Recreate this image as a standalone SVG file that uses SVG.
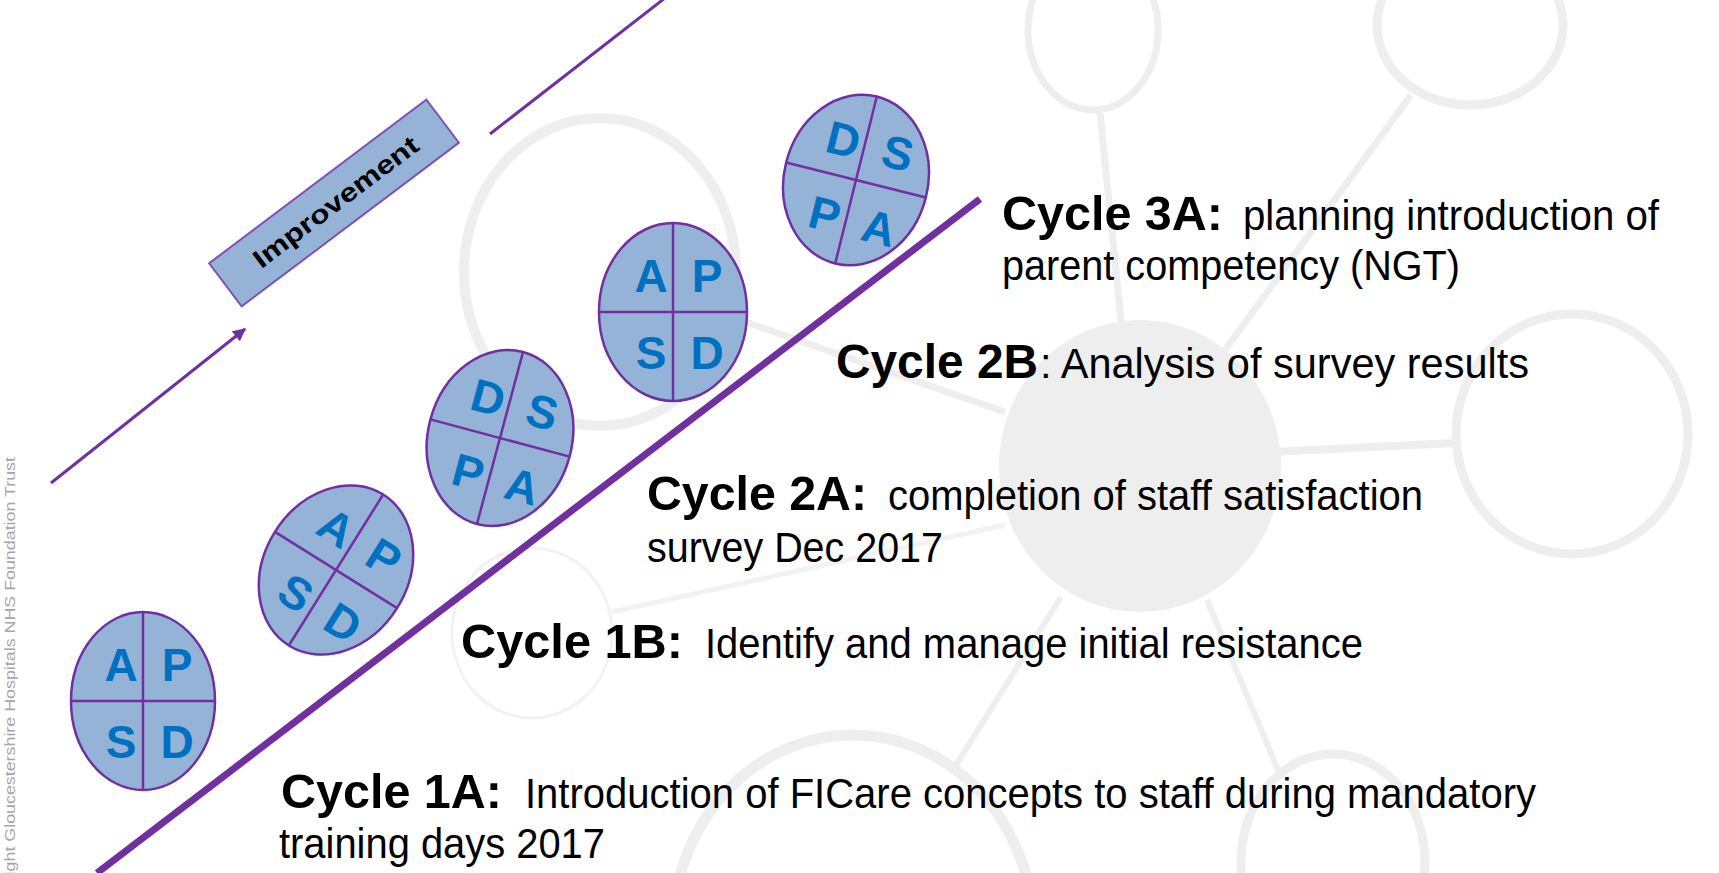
<svg xmlns="http://www.w3.org/2000/svg" width="1719" height="873" viewBox="0 0 1719 873">
<defs>
<style>
.bgring{fill:none;stroke:#eeeeee}
.bgline{stroke:#eeeeee;fill:none}
.pdsa ellipse{fill:#95b3d7;stroke:#7030a0;stroke-width:2.5}
.div{stroke:#7030a0;stroke-width:2.5}
.let{font-family:"Liberation Sans",Arial,sans-serif;font-weight:bold;font-size:46px;fill:#0070c0;text-anchor:middle}
.b{font-family:"Liberation Sans",Arial,sans-serif;font-weight:bold;font-size:48px;fill:#000}
.r{font-family:"Liberation Sans",Arial,sans-serif;font-size:42px;fill:#000}
.conn{stroke:#7030a0;fill:none}
</style>
<marker id="ah" viewBox="0 0 10 10" refX="9" refY="5" markerWidth="16" markerHeight="13" markerUnits="userSpaceOnUse" orient="auto"><path d="M0,0 L10,5 L0,10 z" fill="#7030a0"/></marker>
</defs>
<rect width="1719" height="873" fill="#fff"/>

<g id="background">
<line class="bgline" x1="1100" y1="113" x2="1122" y2="330" stroke-width="7"/>
<line class="bgline" x1="1411" y1="95" x2="1225" y2="350" stroke-width="7"/>
<line class="bgline" x1="1270" y1="452" x2="1455" y2="443" stroke-width="8"/>
<line class="bgline" x1="740" y1="320" x2="1005" y2="412" stroke-width="7"/>
<line class="bgline" x1="612" y1="612" x2="1005" y2="525" stroke-width="5" style="stroke:#f2f2f2"/>
<line class="bgline" x1="1061" y1="597" x2="956" y2="765" stroke-width="6"/>
<line class="bgline" x1="1207" y1="600" x2="1280" y2="775" stroke-width="6"/>
<ellipse class="bgring" cx="600" cy="272" rx="136" ry="154" stroke-width="10"/>
<ellipse class="bgring" cx="1093" cy="30" rx="65" ry="80" stroke-width="7"/>
<ellipse class="bgring" cx="1470" cy="25" rx="93" ry="80" stroke-width="9"/>
<ellipse cx="1140" cy="466" rx="141" ry="146" fill="#eeeeee"/>
<ellipse class="bgring" cx="1572" cy="434" rx="116" ry="120" stroke-width="9"/>
<ellipse class="bgring" cx="532" cy="633" rx="80" ry="85" stroke-width="3" style="stroke:#f2f2f2"/>
<ellipse class="bgring" cx="853" cy="930" rx="180" ry="195" stroke-width="11"/>
<ellipse class="bgring" cx="1333" cy="862" rx="92" ry="108" stroke-width="9"/>
</g>

<text id="copyright" transform="translate(15,923) rotate(-90)" font-family="Liberation Sans, Arial, sans-serif" font-size="14" fill="#a6a6a6" textLength="466" lengthAdjust="spacingAndGlyphs">Copyright Gloucestershire Hospitals NHS Foundation Trust</text>

<g id="connectors">
<line class="conn" x1="97" y1="873" x2="980" y2="199" stroke-width="7"/>
<line class="conn" x1="51" y1="483" x2="245" y2="329" stroke-width="3" marker-end="url(#ah)"/>
<line class="conn" x1="490" y1="134" x2="665" y2="-2" stroke-width="3"/>
</g>

<g id="improvement" transform="translate(334,203) rotate(-37)">
<rect x="-136" y="-27" width="272" height="54" fill="#95b3d7" stroke="#7f4fb3" stroke-width="2"/>
<text x="2" y="9" font-family="Liberation Sans, Arial, sans-serif" font-weight="bold" font-size="26" fill="#000" text-anchor="middle" textLength="200" lengthAdjust="spacingAndGlyphs">Improvement</text>
</g>

<g id="pdsa-1" class="pdsa" transform="translate(143,701)">
<ellipse cx="0" cy="0" rx="72" ry="89"/>
<line class="div" x1="0" y1="-89" x2="0" y2="89"/>
<line class="div" x1="-72" y1="0" x2="72" y2="0"/>
<text class="let" x="-22" y="-20">A</text><text class="let" x="34" y="-20">P</text>
<text class="let" x="-22" y="57">S</text><text class="let" x="34" y="57">D</text>
</g>
<g id="pdsa-2" class="pdsa" transform="translate(336,570) rotate(32)">
<ellipse cx="0" cy="0" rx="72" ry="89"/>
<line class="div" x1="0" y1="-89" x2="0" y2="89"/>
<line class="div" x1="-72" y1="0" x2="72" y2="0"/>
<text class="let" x="-22" y="-20">A</text><text class="let" x="34" y="-20">P</text>
<text class="let" x="-22" y="57">S</text><text class="let" x="34" y="57">D</text>
</g>
<g id="pdsa-3" class="pdsa" transform="translate(500,438) rotate(15)">
<ellipse cx="0" cy="0" rx="72" ry="89"/>
<line class="div" x1="0" y1="-89" x2="0" y2="89"/>
<line class="div" x1="-72" y1="0" x2="72" y2="0"/>
<text class="let" x="-22" y="-20">D</text><text class="let" x="34" y="-20">S</text>
<text class="let" x="-22" y="57">P</text><text class="let" x="34" y="57">A</text>
</g>
<g id="pdsa-4" class="pdsa" transform="translate(673,312)">
<ellipse cx="0" cy="0" rx="74" ry="89"/>
<line class="div" x1="0" y1="-89" x2="0" y2="89"/>
<line class="div" x1="-74" y1="0" x2="74" y2="0"/>
<text class="let" x="-22" y="-20">A</text><text class="let" x="34" y="-20">P</text>
<text class="let" x="-22" y="57">S</text><text class="let" x="34" y="57">D</text>
</g>
<g id="pdsa-5" class="pdsa" transform="translate(856,180) rotate(14)">
<ellipse cx="0" cy="0" rx="72" ry="86"/>
<line class="div" x1="0" y1="-86" x2="0" y2="86"/>
<line class="div" x1="-72" y1="0" x2="72" y2="0"/>
<text class="let" x="-22" y="-20">D</text><text class="let" x="34" y="-20">S</text>
<text class="let" x="-22" y="57">P</text><text class="let" x="34" y="57">A</text>
</g>

<g id="cycle-3a">
<text class="b" x="1002" y="230" textLength="221" lengthAdjust="spacingAndGlyphs">Cycle 3A:</text>
<text class="r" x="1243" y="230" textLength="416" lengthAdjust="spacingAndGlyphs">planning introduction of</text>
<text class="r" x="1002" y="280" textLength="458" lengthAdjust="spacingAndGlyphs">parent competency (NGT)</text>
</g>
<g id="cycle-2b">
<text class="b" x="836" y="378" textLength="202" lengthAdjust="spacingAndGlyphs">Cycle 2B</text>
<text class="r" x="1040" y="378" textLength="489" lengthAdjust="spacingAndGlyphs">: Analysis of survey results</text>
</g>
<g id="cycle-2a">
<text class="b" x="647" y="510" textLength="220" lengthAdjust="spacingAndGlyphs">Cycle 2A:</text>
<text class="r" x="888" y="510" textLength="535" lengthAdjust="spacingAndGlyphs">completion of staff satisfaction</text>
<text class="r" x="647" y="562" textLength="296" lengthAdjust="spacingAndGlyphs">survey Dec 2017</text>
</g>
<g id="cycle-1b">
<text class="b" x="461" y="658" textLength="222" lengthAdjust="spacingAndGlyphs">Cycle 1B:</text>
<text class="r" x="705" y="658" textLength="658" lengthAdjust="spacingAndGlyphs">Identify and manage initial resistance</text>
</g>
<g id="cycle-1a">
<text class="b" x="281" y="808" textLength="221" lengthAdjust="spacingAndGlyphs">Cycle 1A:</text>
<text class="r" x="525" y="808" textLength="1011" lengthAdjust="spacingAndGlyphs">Introduction of FICare concepts to staff during mandatory</text>
<text class="r" x="279" y="858" textLength="326" lengthAdjust="spacingAndGlyphs">training days 2017</text>
</g>
</svg>
